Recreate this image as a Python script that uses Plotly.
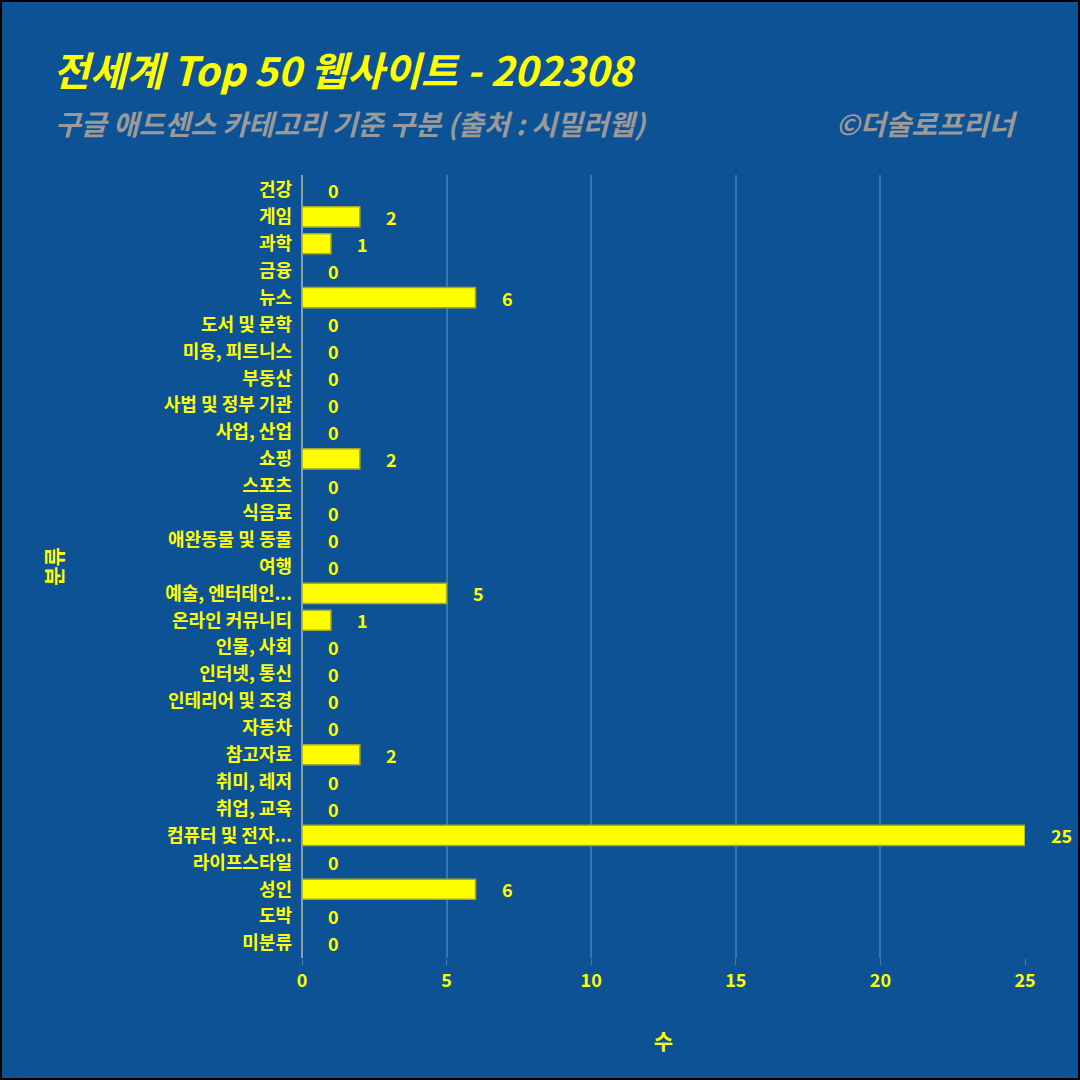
import plotly.graph_objects as go

categories = ["건강", "게임", "과학", "금융", "뉴스", "도서 및 문학", "미용, 피트니스", "부동산",
              "사법 및 정부 기관", "사업, 산업", "쇼핑", "스포츠", "식음료", "애완동물 및 동물", "여행",
              "예술, 엔터테인...", "온라인 커뮤니티", "인물, 사회", "인터넷, 통신", "인테리어 및 조경",
              "자동차", "참고자료", "취미, 레저", "취업, 교육", "컴퓨터 및 전자...", "라이프스타일",
              "성인", "도박", "미분류"]
counts = [0, 2, 1, 0, 6, 0, 0, 0, 0, 0, 2, 0, 0, 0, 0, 5, 1, 0, 0, 0, 0, 2, 0, 0, 25, 0, 6, 0, 0]
x_ticks = [0, 5, 10, 15, 20, 25]

title_text = "전세계 Top 50 웹사이트 - 202308"
subtitle_text = "구글 애드센스 카테고리 기준 구분 (출처 : 시밀러웹)"
caption_text = "©더술로프리너"

BG = "#0d5294"
YEL = "#ffff00"
GRAY = "#9a9a9a"
FONT = "Noto Sans CJK KR"

W, H = 1080, 1080
ML, MR, MT, MB = 302, 55, 175, 122
PW, PH = W - ML - MR, H - MT - MB

fig = go.Figure()
fig.add_trace(go.Bar(
    x=counts, y=categories, orientation="h", width=0.75,
    marker=dict(color=YEL, line=dict(color="#a8a830", width=1.5)),
    hoverinfo="x+y",
))

for c, v in zip(categories, counts):
    fig.add_annotation(x=v, y=c, xref="x", yref="y", text=f"<b>{v}</b>", showarrow=False,
                       xanchor="left", yanchor="middle", xshift=24,
                       font=dict(family=FONT, size=18, color=YEL))

def px_x(px):
    return (px - ML) / PW

def px_y(py):
    return (H - MB - py) / PH

fig.add_annotation(x=px_x(53), y=px_y(123), xref="paper", yref="paper",
                   text=f"<b><i>{subtitle_text}</i></b>", showarrow=False,
                   xanchor="left", yanchor="middle", font=dict(family=FONT, size=28, color=GRAY))
fig.add_annotation(x=px_x(1020), y=px_y(123), xref="paper", yref="paper",
                   text=f"<b><i>{caption_text}</i></b>", showarrow=False,
                   xanchor="right", yanchor="middle", font=dict(family=FONT, size=28, color=GRAY))

fig.add_shape(type="rect", xref="paper", yref="paper",
              x0=px_x(1), x1=px_x(W - 1), y0=px_y(H - 1), y1=px_y(1),
              line=dict(color="black", width=2), fillcolor="rgba(0,0,0,0)", layer="above")

fig.update_layout(
    width=W, height=H,
    margin=dict(l=ML, r=MR, t=MT, b=MB),
    paper_bgcolor=BG, plot_bgcolor=BG,
    showlegend=False,
    title=dict(text=f"<b><i>{title_text}</i></b>", xref="container", yref="container",
               x=53 / W, y=1 - 72 / H, xanchor="left", yanchor="middle",
               font=dict(family=FONT, size=40, color=YEL)),
    font=dict(family=FONT, color=YEL),
    bargap=0.25,
)
fig.update_xaxes(range=[0, 25], tickvals=x_ticks, ticktext=[f"<b>{t}</b>" for t in x_ticks],
                 showgrid=True, gridcolor="rgba(255,255,255,0.2)", gridwidth=1.5,
                 zeroline=True, zerolinecolor="rgba(200,210,230,0.6)", zerolinewidth=2,
                 ticks="outside", ticklen=6, tickcolor="rgba(255,255,255,0.25)",
                 tickfont=dict(family=FONT, size=18, color=YEL),
                 title=dict(text="<b>수</b>", standoff=43, font=dict(family=FONT, size=21, color=YEL)))
fig.update_yaxes(autorange="reversed", categoryorder="array", categoryarray=categories,
                 tickvals=categories, ticktext=[f"<b>{c}</b>" for c in categories],
                 showgrid=False, ticks="", ticklabelstandoff=9,
                 tickfont=dict(family=FONT, size=18, color=YEL),
                 title=dict(text="<b>분류</b>", standoff=95, font=dict(family=FONT, size=21, color=YEL)))

fig.write_html("out.html", config={"displayModeBar": False},
               post_script="document.body.style.margin='0';document.body.style.background='%s';" % BG)
